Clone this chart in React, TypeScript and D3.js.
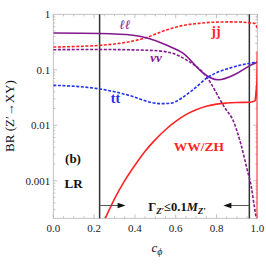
import React, { useEffect, useRef } from 'react';
import * as d3 from 'd3';

// BR(Z' -> XY) vs c_phi
const llData: [number, number][] = [
  [0, 0.46], [0.23, 0.45], [0.39, 0.42], [0.46, 0.375], [0.557, 0.276], [0.637, 0.198],
  [0.735, 0.087], [0.77, 0.072], [0.809, 0.066], [0.892, 0.083], [0.966, 0.12], [1.0, 0.137],
];
const nnData: [number, number][] = [
  [0, 0.23], [0.23, 0.232], [0.475, 0.224], [0.57, 0.205], [0.655, 0.148], [0.745, 0.08],
  [0.843, 0.02], [0.881, 0.0123], [0.92, 0.0045], [0.95, 0.0016], [0.97, 0.0008],
  [0.985, 0.00035], [0.996, 0.0002],
];
const jjData: [number, number][] = [
  [0, 0.257], [0.23, 0.276], [0.39, 0.33], [0.46, 0.385], [0.54, 0.5], [0.637, 0.63],
  [0.72, 0.69], [0.784, 0.72], [0.882, 0.73], [0.966, 0.7], [0.99, 0.68], [1.0, 0.55],
];
const ttData: [number, number][] = [
  [0, 0.0526], [0.23, 0.045], [0.39, 0.033], [0.475, 0.026], [0.533, 0.0245], [0.574, 0.025],
  [0.672, 0.04], [0.76, 0.074], [0.882, 0.112], [1.0, 0.138],
];
const wwData: [number, number][] = [
  [0.255, 0.00021], [0.3, 0.00047], [0.35, 0.001], [0.4, 0.0019], [0.45, 0.0034],
  [0.5, 0.0055], [0.55, 0.0083], [0.6, 0.0117], [0.65, 0.0155], [0.7, 0.019],
  [0.75, 0.0219], [0.8, 0.024], [0.85, 0.0251], [0.9, 0.0257], [0.966, 0.026], [0.99, 0.0275],
];
const wwEdge: [number, number][] = [[0.99, 0.0275], [0.998, 0.06], [1.0, 0.21], [1.0, 0.0002]];

const widthBounds = [0.227, 0.961];
const xTicks = [0, 0.2, 0.4, 0.6, 0.8, 1.0];
const yTicks = [1, 0.1, 0.01, 0.001];
const yTickLabels = ['1', '0.1', '0.01', '0.001'];

const PURPLE = '#82198f';
const RED = '#ff2424';
const BLUE = '#2430f0';

export default function App() {
  const ref = useRef<SVGSVGElement>(null);

  useEffect(() => {
    const svg = d3.select(ref.current);
    svg.selectAll('*').remove();
    const W = 266, H = 266;
    const L = 53.3, R = 257.3, T = 14.3, B = 218.3;
    const x = d3.scaleLinear().domain([0, 1]).range([L, R]);
    const y = d3.scaleLog().domain([2.1e-4, 1]).range([B, T]);
    const font = "'Liberation Serif', 'DejaVu Serif', serif";

    svg.append('rect').attr('width', W).attr('height', H).attr('fill', '#fff');

    svg.append('clipPath').attr('id', 'plot')
      .append('rect').attr('x', L).attr('y', T).attr('width', R - L).attr('height', B - T);

    // frame + ticks
    const frame = svg.append('g').attr('stroke', '#b4b4b4').attr('stroke-width', 0.8).attr('fill', 'none');
    frame.append('rect').attr('x', L).attr('y', T).attr('width', R - L).attr('height', B - T);
    d3.range(0, 1.0001, 0.05).forEach((v, i) => {
      const len = i % 4 === 0 ? 4 : 2;
      frame.append('line').attr('x1', x(v)).attr('x2', x(v)).attr('y1', B).attr('y2', B - len);
      frame.append('line').attr('x1', x(v)).attr('x2', x(v)).attr('y1', T).attr('y2', T + len);
    });
    [-4, -3, -2, -1].forEach(e => {
      d3.range(1, 10).forEach(m => {
        const v = m * Math.pow(10, e);
        if (v < 2.1e-4) return;
        const len = m === 1 ? 4 : 2;
        frame.append('line').attr('x1', L).attr('x2', L + len).attr('y1', y(v)).attr('y2', y(v));
        frame.append('line').attr('x1', R).attr('x2', R - len).attr('y1', y(v)).attr('y2', y(v));
      });
    });

    // tick labels
    yTicks.forEach((v, i) => {
      svg.append('text').attr('x', L - 3).attr('y', y(v) + 4).attr('text-anchor', 'end')
        .attr('font-family', font).attr('font-size', 11).attr('fill', '#222').text(yTickLabels[i]);
    });
    xTicks.forEach(v => {
      svg.append('text').attr('x', x(v)).attr('y', 232).attr('text-anchor', 'middle')
        .attr('font-family', font).attr('font-size', 11).attr('fill', '#222').text(v.toFixed(1));
    });

    // axis titles
    svg.append('text').attr('transform', 'translate(14,116) rotate(-90)').attr('text-anchor', 'middle')
      .attr('font-family', font).attr('font-size', 13).attr('fill', '#111')
      .text('BR (Z′→XY)');
    const xl = svg.append('text').attr('x', 157).attr('y', 252).attr('text-anchor', 'middle')
      .attr('font-family', font).attr('font-size', 13).attr('font-style', 'italic').attr('fill', '#111');
    xl.append('tspan').text('c');
    xl.append('tspan').attr('font-size', 10).attr('dy', 3).text('ϕ');

    // width bound lines
    widthBounds.forEach(v => {
      svg.append('line').attr('x1', x(v)).attr('x2', x(v)).attr('y1', T).attr('y2', B)
        .attr('stroke', '#333').attr('stroke-width', 1.5);
    });

    const plot = svg.append('g').attr('clip-path', 'url(#plot)');
    const line = d3.line<[number, number]>().x(d => x(d[0])).y(d => y(d[1])).curve(d3.curveMonotoneX);
    const straight = d3.line<[number, number]>().x(d => x(d[0])).y(d => y(d[1]));

    const series: { data: [number, number][]; color: string; dash?: string }[] = [
      { data: wwData, color: RED },
      { data: jjData, color: RED, dash: '3,1.6' },
      { data: llData, color: PURPLE },
      { data: nnData, color: PURPLE, dash: '3,1.6' },
      { data: ttData, color: BLUE, dash: '3,1.6' },
    ];
    series.forEach(s => {
      plot.append('path').attr('d', line(s.data)).attr('fill', 'none').attr('stroke', s.color)
        .attr('stroke-width', 1.6).attr('stroke-dasharray', s.dash ?? null);
    });
    plot.append('path').attr('d', straight(wwEdge)).attr('fill', 'none').attr('stroke', RED)
      .attr('stroke-width', 1.6).attr('stroke-linejoin', 'round');

    // arrows
    const ay = 205.5;
    const arrow = (x0: number, x1: number) => {
      const dir = Math.sign(x1 - x0);
      svg.append('line').attr('x1', x0).attr('x2', x1 - dir * 6).attr('y1', ay).attr('y2', ay)
        .attr('stroke', '#555').attr('stroke-width', 1);
      svg.append('path')
        .attr('d', `M${x1},${ay} L${x1 - dir * 8},${ay - 2.8} L${x1 - dir * 8},${ay + 2.8} Z`)
        .attr('fill', '#111');
    };
    arrow(x(widthBounds[0]), x(widthBounds[0]) + 26);
    arrow(x(widthBounds[1]), x(widthBounds[1]) - 26);

    const g = svg.append('text').attr('x', 177).attr('y', 211).attr('text-anchor', 'middle')
      .attr('font-family', font).attr('font-size', 12.5).attr('font-weight', 'bold').attr('fill', '#111');
    g.append('tspan').text('Γ');
    g.append('tspan').attr('font-size', 9).attr('dy', 3).attr('font-style', 'italic').text('Z′');
    g.append('tspan').attr('dy', -3).text('≤0.1');
    g.append('tspan').attr('font-style', 'italic').text('M');
    g.append('tspan').attr('font-size', 9).attr('dy', 3).attr('font-style', 'italic').text('Z′');

    // curve labels
    const label = (tx: number, ty: number, t: string, c: string, size: number, italic = false) => {
      svg.append('text').attr('x', tx).attr('y', ty).attr('text-anchor', 'middle')
        .attr('font-family', font).attr('font-size', size).attr('font-weight', 'bold')
        .attr('font-style', italic ? 'italic' : 'normal').attr('fill', c).text(t);
    };
    label(125, 29, 'ℓℓ', PURPLE, 13, true);
    label(216, 36, 'jj', RED, 14);
    label(156, 62, 'νν', PURPLE, 13, true);
    label(115.5, 103, 'tt', BLUE, 14);
    label(199, 151, 'WW/ZH', RED, 13.5);
    label(73, 163, '(b)', '#111', 13);
    label(73.5, 188, 'LR', '#111', 13);
  }, []);

  return (
    <svg ref={ref} width={266} height={266} style={{ position: 'absolute', left: 0, top: 0 }} />
  );
}
